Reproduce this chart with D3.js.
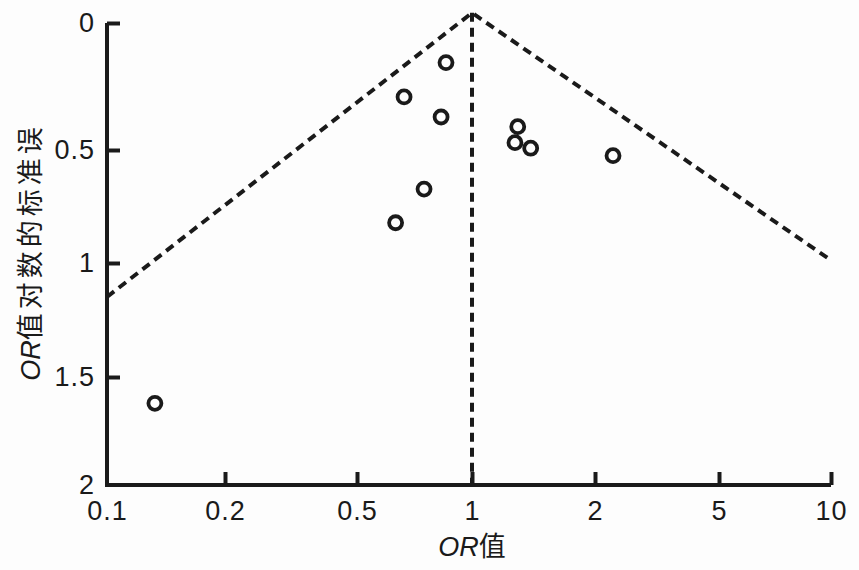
<!DOCTYPE html>
<meta charset="utf-8">
<script src="https://d3js.org/d3.v7.min.js"></script>
<style>
  body { margin: 0; background: #fdfdfd; }
  text { font-family: "Liberation Sans", Arial, "Noto Sans CJK SC", sans-serif; fill: #1a1a1a; }
</style>
<div id="my_dataviz"></div>
<script>

// x axis ticks (OR) and y axis ticks (SE of log OR)
var xTicks = [0.1, 0.2, 0.5, 1, 2, 5, 10];
var yTicks = [0, 0.5, 1, 1.5, 2];

// studies: odds ratio and standard error of log OR
var orValues = [0.855, 0.664, 0.830, 1.294, 1.274, 1.392, 2.285, 0.749, 0.631, 0.1325];
var seValues = [0.156, 0.291, 0.370, 0.408, 0.471, 0.493, 0.525, 0.673, 0.822, 1.622];

// funnel (pseudo 95% limits) as drawn
var funnelOR = [0.1, 1, 9.8];
var funnelSE = [1.149, -0.04, 0.978];
var centreOR = [1, 1];
var centreSE = [-0.04, 2];

var width = 859, height = 570;

var svg = d3.select("#my_dataviz")
  .append("svg")
    .attr("width", width)
    .attr("height", height);

// the printed axis is not a true log axis: tick spacing is irregular,
// so map log10(OR) piecewise onto the measured tick positions
var xLog = d3.scaleLinear()
  .domain(xTicks.map(function(d) { return Math.log10(d); }))
  .range([107, 225, 357, 472, 595, 719, 831]);
var x = function(v) { return xLog(Math.log10(v)); };

var y = d3.scaleLinear()
  .domain(yTicks)
  .range([23, 150, 263, 377, 485]);

// y axis
var yAxis = svg.append("g")
  .attr("transform", "translate(107,0)")
  .call(d3.axisLeft(y).tickValues(yTicks).tickSize(-13).tickPadding(12)
    .tickFormat(function(d) { return d; }));
yAxis.select(".domain").remove();
yAxis.selectAll(".tick line").attr("stroke", "#1a1a1a").attr("stroke-width", 4);
yAxis.selectAll(".tick").filter(function(d) { return d === 2; }).select("line").remove();
yAxis.selectAll("text").style("font-size", "27px").style("letter-spacing", "1px")
  .attr("fill", "#1a1a1a");

// x axis
var xAxis = svg.append("g")
  .attr("transform", "translate(0," + y(2) + ")")
  .call(d3.axisBottom(xLog).tickValues(xTicks.map(function(d) { return Math.log10(d); }))
    .tickSize(-13).tickPadding(16)
    .tickFormat(function(d, i) { return xTicks[i]; }));
xAxis.select(".domain").remove();
xAxis.selectAll(".tick line").attr("stroke", "#1a1a1a").attr("stroke-width", 4);
xAxis.selectAll(".tick").filter(function(d, i) { return i === 0; }).select("line").remove();
xAxis.selectAll("text").style("font-size", "27px").style("letter-spacing", "1px")
  .attr("fill", "#1a1a1a");

// axis lines
svg.append("path")
  .attr("d", "M" + x(0.1) + "," + y(0) + "V" + y(2) + "H" + x(10))
  .attr("fill", "none")
  .attr("stroke", "#1a1a1a")
  .attr("stroke-width", 4);

// funnel dashed lines
var line = d3.line()
  .x(function(d) { return x(d[0]); })
  .y(function(d) { return y(d[1]); });

svg.append("path")
  .attr("d", line(d3.zip(funnelOR, funnelSE)))
  .attr("fill", "none")
  .attr("stroke", "#1a1a1a")
  .attr("stroke-width", 4)
  .attr("stroke-dasharray", "9,6");

svg.append("path")
  .attr("d", line(d3.zip(centreOR, centreSE)))
  .attr("fill", "none")
  .attr("stroke", "#1a1a1a")
  .attr("stroke-width", 4)
  .attr("stroke-dasharray", "9,6");

// study points
svg.selectAll("circle.study")
  .data(d3.zip(orValues, seValues))
  .enter()
  .append("circle")
    .attr("class", "study")
    .attr("cx", function(d) { return x(d[0]); })
    .attr("cy", function(d) { return y(d[1]); })
    .attr("r", 6.5)
    .attr("fill", "none")
    .attr("stroke", "#1a1a1a")
    .attr("stroke-width", 3.8);

// axis titles
var xt = svg.append("text")
  .attr("x", x(1))
  .attr("y", 556)
  .attr("text-anchor", "middle")
  .style("font-size", "27px");
xt.append("tspan").style("font-style", "italic").text("OR");
xt.append("tspan").text("值");

var yt = svg.append("text")
  .attr("transform", "translate(40,252) rotate(-90)")
  .attr("text-anchor", "middle")
  .style("font-size", "27px");
yt.append("tspan").style("font-style", "italic").text("OR");
yt.append("tspan").style("letter-spacing", "4px").text("值对数的标准误");

</script>
